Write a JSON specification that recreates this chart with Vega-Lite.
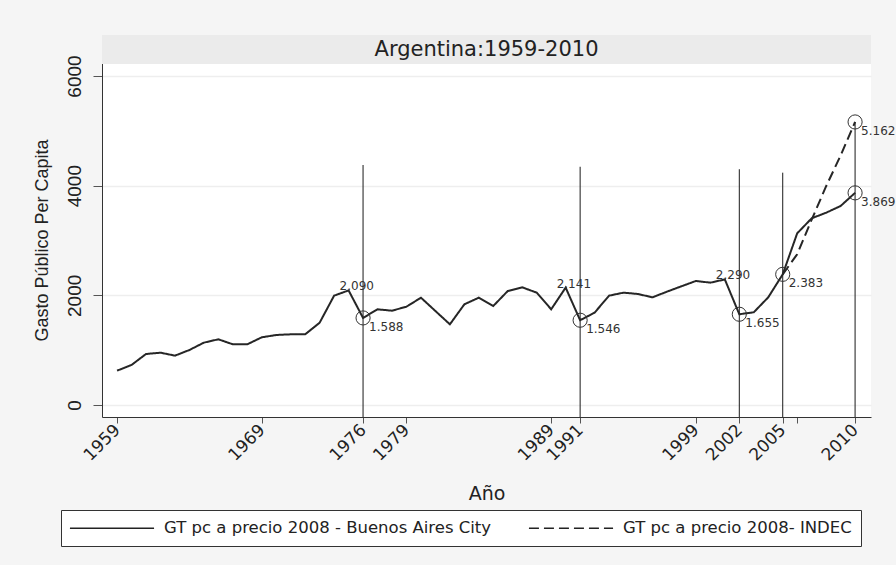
{
  "$schema": "https://vega.github.io/schema/vega-lite/v6.json",
  "autosize": {"type": "none"},
  "padding": {"left": 102, "top": 35, "right": 25, "bottom": 148},
  "width": 769,
  "height": 382,
  "background": "#f5f5f5",
  "view": {"fill": "white", "stroke": null},
  "config": {
    "locale": {"number": {"decimal": ",", "thousands": ".", "grouping": [3], "currency": ["$", ""]}},
    "font": "DejaVu Sans"
  },
  "datasets": {
    "gasto": [
      {"anio": 1959, "gasto": 626, "serie": "GT pc a precio 2008 - Buenos Aires City"},
      {"anio": 1960, "gasto": 730, "serie": "GT pc a precio 2008 - Buenos Aires City"},
      {"anio": 1961, "gasto": 930, "serie": "GT pc a precio 2008 - Buenos Aires City"},
      {"anio": 1962, "gasto": 954, "serie": "GT pc a precio 2008 - Buenos Aires City"},
      {"anio": 1963, "gasto": 900, "serie": "GT pc a precio 2008 - Buenos Aires City"},
      {"anio": 1964, "gasto": 1003, "serie": "GT pc a precio 2008 - Buenos Aires City"},
      {"anio": 1965, "gasto": 1137, "serie": "GT pc a precio 2008 - Buenos Aires City"},
      {"anio": 1966, "gasto": 1198, "serie": "GT pc a precio 2008 - Buenos Aires City"},
      {"anio": 1967, "gasto": 1107, "serie": "GT pc a precio 2008 - Buenos Aires City"},
      {"anio": 1968, "gasto": 1107, "serie": "GT pc a precio 2008 - Buenos Aires City"},
      {"anio": 1969, "gasto": 1234, "serie": "GT pc a precio 2008 - Buenos Aires City"},
      {"anio": 1970, "gasto": 1277, "serie": "GT pc a precio 2008 - Buenos Aires City"},
      {"anio": 1971, "gasto": 1289, "serie": "GT pc a precio 2008 - Buenos Aires City"},
      {"anio": 1972, "gasto": 1289, "serie": "GT pc a precio 2008 - Buenos Aires City"},
      {"anio": 1973, "gasto": 1501, "serie": "GT pc a precio 2008 - Buenos Aires City"},
      {"anio": 1974, "gasto": 1994, "serie": "GT pc a precio 2008 - Buenos Aires City"},
      {"anio": 1975, "gasto": 2090, "serie": "GT pc a precio 2008 - Buenos Aires City"},
      {"anio": 1976, "gasto": 1588, "serie": "GT pc a precio 2008 - Buenos Aires City"},
      {"anio": 1977, "gasto": 1745, "serie": "GT pc a precio 2008 - Buenos Aires City"},
      {"anio": 1978, "gasto": 1720, "serie": "GT pc a precio 2008 - Buenos Aires City"},
      {"anio": 1979, "gasto": 1793, "serie": "GT pc a precio 2008 - Buenos Aires City"},
      {"anio": 1980, "gasto": 1957, "serie": "GT pc a precio 2008 - Buenos Aires City"},
      {"anio": 1981, "gasto": 1714, "serie": "GT pc a precio 2008 - Buenos Aires City"},
      {"anio": 1982, "gasto": 1471, "serie": "GT pc a precio 2008 - Buenos Aires City"},
      {"anio": 1983, "gasto": 1836, "serie": "GT pc a precio 2008 - Buenos Aires City"},
      {"anio": 1984, "gasto": 1957, "serie": "GT pc a precio 2008 - Buenos Aires City"},
      {"anio": 1985, "gasto": 1806, "serie": "GT pc a precio 2008 - Buenos Aires City"},
      {"anio": 1986, "gasto": 2079, "serie": "GT pc a precio 2008 - Buenos Aires City"},
      {"anio": 1987, "gasto": 2146, "serie": "GT pc a precio 2008 - Buenos Aires City"},
      {"anio": 1988, "gasto": 2049, "serie": "GT pc a precio 2008 - Buenos Aires City"},
      {"anio": 1989, "gasto": 1745, "serie": "GT pc a precio 2008 - Buenos Aires City"},
      {"anio": 1990, "gasto": 2141, "serie": "GT pc a precio 2008 - Buenos Aires City"},
      {"anio": 1991, "gasto": 1546, "serie": "GT pc a precio 2008 - Buenos Aires City"},
      {"anio": 1992, "gasto": 1684, "serie": "GT pc a precio 2008 - Buenos Aires City"},
      {"anio": 1993, "gasto": 1994, "serie": "GT pc a precio 2008 - Buenos Aires City"},
      {"anio": 1994, "gasto": 2049, "serie": "GT pc a precio 2008 - Buenos Aires City"},
      {"anio": 1995, "gasto": 2024, "serie": "GT pc a precio 2008 - Buenos Aires City"},
      {"anio": 1996, "gasto": 1964, "serie": "GT pc a precio 2008 - Buenos Aires City"},
      {"anio": 1997, "gasto": 2067, "serie": "GT pc a precio 2008 - Buenos Aires City"},
      {"anio": 1998, "gasto": 2165, "serie": "GT pc a precio 2008 - Buenos Aires City"},
      {"anio": 1999, "gasto": 2262, "serie": "GT pc a precio 2008 - Buenos Aires City"},
      {"anio": 2000, "gasto": 2231, "serie": "GT pc a precio 2008 - Buenos Aires City"},
      {"anio": 2001, "gasto": 2290, "serie": "GT pc a precio 2008 - Buenos Aires City"},
      {"anio": 2002, "gasto": 1655, "serie": "GT pc a precio 2008 - Buenos Aires City"},
      {"anio": 2003, "gasto": 1691, "serie": "GT pc a precio 2008 - Buenos Aires City"},
      {"anio": 2004, "gasto": 1964, "serie": "GT pc a precio 2008 - Buenos Aires City"},
      {"anio": 2005, "gasto": 2383, "serie": "GT pc a precio 2008 - Buenos Aires City"},
      {"anio": 2006, "gasto": 3131, "serie": "GT pc a precio 2008 - Buenos Aires City"},
      {"anio": 2007, "gasto": 3405, "serie": "GT pc a precio 2008 - Buenos Aires City"},
      {"anio": 2008, "gasto": 3507, "serie": "GT pc a precio 2008 - Buenos Aires City"},
      {"anio": 2009, "gasto": 3629, "serie": "GT pc a precio 2008 - Buenos Aires City"},
      {"anio": 2010, "gasto": 3869, "serie": "GT pc a precio 2008 - Buenos Aires City"},
      {"anio": 2005, "gasto": 2383, "serie": "GT pc a precio 2008- INDEC"},
      {"anio": 2006, "gasto": 2750, "serie": "GT pc a precio 2008- INDEC"},
      {"anio": 2007, "gasto": 3380, "serie": "GT pc a precio 2008- INDEC"},
      {"anio": 2008, "gasto": 3990, "serie": "GT pc a precio 2008- INDEC"},
      {"anio": 2009, "gasto": 4550, "serie": "GT pc a precio 2008- INDEC"},
      {"anio": 2010, "gasto": 5162, "serie": "GT pc a precio 2008- INDEC"}
    ],
    "lineas": [
      {"anio": 1976, "tope": 4377},
      {"anio": 1991, "tope": 4345},
      {"anio": 2002, "tope": 4300},
      {"anio": 2005, "tope": 4237},
      {"anio": 2010, "tope": 5162}
    ],
    "titulo": [
      {"titulo": "Argentina:1959-2010"}
    ]
  },
  "layer": [
    {
      "data": {"name": "lineas"},
      "mark": {"type": "rule", "color": "#1a1a1a", "strokeWidth": 1},
      "encoding": {
        "x": {
          "field": "anio", "type": "quantitative",
          "scale": {"domain": [1957.96, 2011.1], "nice": false, "zero": false},
          "axis": {
            "zindex": 0,
            "title": "Año", "titleFont": "DejaVu Sans", "titleFontSize": 19, "titleFontWeight": "normal", "titleColor": "#222222", "titlePadding": 21,
            "values": [1959, 1969, 1976, 1979, 1989, 1991, 1999, 2002, 2005, 2006, 2010],
            "format": "d",
            "labelExpr": "datum.value == 2006 ? '' : datum.label",
            "labelAngle": -45, "labelAlign": "right", "labelBaseline": "middle",
            "labelFont": "DejaVu Sans", "labelFontSize": 17, "labelColor": "#222222", "labelPadding": 4,
            "labelOverlap": false, "labelFlush": false, "labelBound": false,
            "tickSize": 6, "tickColor": "#555555", "domainColor": "#333333", "grid": false
          }
        },
        "y": {
          "field": "tope", "type": "quantitative",
          "scale": {"domain": [-219, 6748], "nice": false, "zero": false},
          "axis": {
            "zindex": 0,
            "title": "Gasto Público Per Capita", "titleFont": "Liberation Sans", "titleFontSize": 18, "titleFontWeight": "normal", "titleColor": "#222222", "titlePadding": 14, "titleY": 205,
            "values": [0, 2000, 4000, 6000], "format": "d",
            "labelAngle": 270, "labelAlign": "center", "labelBaseline": "bottom",
            "labelFont": "Liberation Sans", "labelFontSize": 19, "labelColor": "#222222", "labelPadding": 9,
            "tickSize": 9, "tickColor": "#555555", "domainColor": "#333333",
            "grid": true, "gridColor": "#eeeeee", "gridWidth": 1.5
          }
        },
        "y2": {"datum": -219}
      }
    },
    {
      "data": {"name": "titulo"},
      "mark": {"type": "rect", "color": "#ebebeb"},
      "encoding": {
        "x": {"datum": 1957.96, "type": "quantitative"},
        "x2": {"datum": 2011.1},
        "y": {"datum": 6219, "type": "quantitative"},
        "y2": {"datum": 6748}
      }
    },
    {
      "data": {"name": "titulo"},
      "mark": {"type": "text", "font": "DejaVu Sans", "fontSize": 21, "color": "#222222", "align": "center", "baseline": "middle"},
      "encoding": {
        "x": {"datum": 1984.53, "type": "quantitative"},
        "y": {"datum": 6483, "type": "quantitative"},
        "text": {"field": "titulo", "type": "nominal"}
      }
    },
    {
      "data": {"name": "gasto"},
      "mark": {"type": "line", "color": "#262626", "strokeWidth": 2},
      "encoding": {
        "x": {"field": "anio", "type": "quantitative"},
        "y": {"field": "gasto", "type": "quantitative"},
        "strokeDash": {
          "field": "serie", "type": "nominal",
          "scale": {"domain": ["GT pc a precio 2008 - Buenos Aires City", "GT pc a precio 2008- INDEC"], "range": [[1, 0], [10, 5]]},
          "legend": {
            "title": null, "orient": "none", "legendX": -41, "legendY": 475, "direction": "horizontal",
            "padding": 9, "strokeColor": "#333333", "fillColor": "white", "cornerRadius": 0,
            "labelFont": "DejaVu Sans", "labelFontSize": 16.5, "labelColor": "#222222", "labelOffset": 43, "labelLimit": 400,
            "symbolType": "M-5.1,0H5.1", "symbolSize": 272, "symbolOffset": 33, "symbolStrokeWidth": 1.5, "symbolStrokeColor": "#222222",
            "columnPadding": 33
          }
        }
      }
    },
    {
      "data": {"name": "gasto"},
      "transform": [{"filter": "indexof([1976, 1991, 2002, 2005, 2010], datum.anio) >= 0 && !(datum.serie == 'GT pc a precio 2008- INDEC' && datum.anio == 2005)"}],
      "mark": {"type": "point", "shape": "circle", "filled": false, "size": 200, "stroke": "#333333", "strokeWidth": 1, "opacity": 1},
      "encoding": {
        "x": {"field": "anio", "type": "quantitative"},
        "y": {"field": "gasto", "type": "quantitative"}
      }
    },
    {
      "data": {"name": "gasto"},
      "transform": [{"filter": {"field": "anio", "oneOf": [1975, 1990, 2001]}}],
      "mark": {"type": "text", "align": "left", "baseline": "alphabetic", "dx": -9, "dy": 0, "font": "DejaVu Sans", "fontSize": 12, "color": "#333333"},
      "encoding": {
        "x": {"field": "anio", "type": "quantitative"},
        "y": {"field": "gasto", "type": "quantitative"},
        "text": {"field": "gasto", "type": "quantitative", "format": ",d"}
      }
    },
    {
      "data": {"name": "gasto"},
      "transform": [{"filter": "indexof([1976, 1991, 2002, 2005, 2010], datum.anio) >= 0 && !(datum.serie == 'GT pc a precio 2008- INDEC' && datum.anio == 2005)"}],
      "mark": {"type": "text", "align": "left", "baseline": "middle", "dx": 6, "dy": 9, "font": "DejaVu Sans", "fontSize": 12, "color": "#333333"},
      "encoding": {
        "x": {"field": "anio", "type": "quantitative"},
        "y": {"field": "gasto", "type": "quantitative"},
        "text": {"field": "gasto", "type": "quantitative", "format": ",d"}
      }
    }
  ]
}
